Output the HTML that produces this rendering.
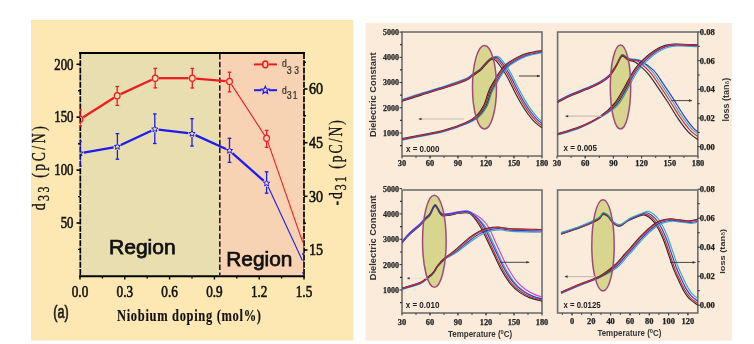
<!DOCTYPE html>
<html><head><meta charset="utf-8"><style>
html,body{margin:0;padding:0;background:#fff;width:754px;height:344px;overflow:hidden}
svg{display:block}
</style></head><body>
<svg width="754" height="344" viewBox="0 0 754 344">
<defs><clipPath id="plotclip"><rect x="80" y="53" width="224" height="223"/></clipPath></defs>
<rect width="754" height="344" fill="#fff"/>
<rect x="31" y="20" width="322.3" height="320.6" fill="#FDE8B3"/>
<rect x="80" y="53" width="140" height="223" fill="#E9DEB0"/>
<rect x="220" y="53" width="84" height="223" fill="#F8D3B3"/>
<line x1="79" y1="53" x2="305" y2="53" stroke="#000" stroke-width="2.2"/>
<line x1="79" y1="276.2" x2="305" y2="276.2" stroke="#000" stroke-width="2"/>
<line x1="80.3" y1="53" x2="80.3" y2="277" stroke="#000" stroke-width="1.7" stroke-dasharray="6,1.2"/>
<line x1="304" y1="53" x2="304" y2="277" stroke="#000" stroke-width="1.7" stroke-dasharray="6,1.2"/>
<line x1="219.8" y1="54" x2="219.8" y2="275" stroke="#111" stroke-width="1.5" stroke-dasharray="5.5,2.3"/>
<line x1="76.5" y1="64.3" x2="80" y2="64.3" stroke="#000" stroke-width="1.6"/>
<line x1="76.5" y1="117.2" x2="80" y2="117.2" stroke="#000" stroke-width="1.6"/>
<line x1="76.5" y1="170.1" x2="80" y2="170.1" stroke="#000" stroke-width="1.6"/>
<line x1="76.5" y1="223.0" x2="80" y2="223.0" stroke="#000" stroke-width="1.6"/>
<line x1="78" y1="90.8" x2="80" y2="90.8" stroke="#000" stroke-width="1.4"/>
<line x1="78" y1="143.7" x2="80" y2="143.7" stroke="#000" stroke-width="1.4"/>
<line x1="78" y1="196.6" x2="80" y2="196.6" stroke="#000" stroke-width="1.4"/>
<line x1="78" y1="249.4" x2="80" y2="249.4" stroke="#000" stroke-width="1.4"/>
<line x1="304" y1="89.0" x2="307.5" y2="89.0" stroke="#000" stroke-width="1.6"/>
<line x1="304" y1="142.7" x2="307.5" y2="142.7" stroke="#000" stroke-width="1.6"/>
<line x1="304" y1="196.3" x2="307.5" y2="196.3" stroke="#000" stroke-width="1.6"/>
<line x1="304" y1="250.0" x2="307.5" y2="250.0" stroke="#000" stroke-width="1.6"/>
<line x1="304" y1="62.2" x2="306" y2="62.2" stroke="#000" stroke-width="1.4"/>
<line x1="304" y1="115.8" x2="306" y2="115.8" stroke="#000" stroke-width="1.4"/>
<line x1="304" y1="169.5" x2="306" y2="169.5" stroke="#000" stroke-width="1.4"/>
<line x1="304" y1="223.2" x2="306" y2="223.2" stroke="#000" stroke-width="1.4"/>
<line x1="80.0" y1="276" x2="80.0" y2="279.5" stroke="#000" stroke-width="1.4"/>
<line x1="102.4" y1="276" x2="102.4" y2="278.5" stroke="#000" stroke-width="1.4"/>
<line x1="124.8" y1="276" x2="124.8" y2="279.5" stroke="#000" stroke-width="1.4"/>
<line x1="147.2" y1="276" x2="147.2" y2="278.5" stroke="#000" stroke-width="1.4"/>
<line x1="169.6" y1="276" x2="169.6" y2="279.5" stroke="#000" stroke-width="1.4"/>
<line x1="192.0" y1="276" x2="192.0" y2="278.5" stroke="#000" stroke-width="1.4"/>
<line x1="214.4" y1="276" x2="214.4" y2="279.5" stroke="#000" stroke-width="1.4"/>
<line x1="236.8" y1="276" x2="236.8" y2="278.5" stroke="#000" stroke-width="1.4"/>
<line x1="259.2" y1="276" x2="259.2" y2="279.5" stroke="#000" stroke-width="1.4"/>
<line x1="281.6" y1="276" x2="281.6" y2="278.5" stroke="#000" stroke-width="1.4"/>
<line x1="304.0" y1="276" x2="304.0" y2="279.5" stroke="#000" stroke-width="1.4"/>
<text x="73.5" y="69.5" font-family='"Liberation Serif", serif' font-size="16.5" font-weight="normal" fill="#111" text-anchor="end" textLength="19.2" lengthAdjust="spacingAndGlyphs" stroke="#111" stroke-width="0.6">200</text>
<text x="73.5" y="122.4" font-family='"Liberation Serif", serif' font-size="16.5" font-weight="normal" fill="#111" text-anchor="end" textLength="19.2" lengthAdjust="spacingAndGlyphs" stroke="#111" stroke-width="0.6">150</text>
<text x="73.5" y="175.3" font-family='"Liberation Serif", serif' font-size="16.5" font-weight="normal" fill="#111" text-anchor="end" textLength="19.2" lengthAdjust="spacingAndGlyphs" stroke="#111" stroke-width="0.6">100</text>
<text x="73.5" y="228.2" font-family='"Liberation Serif", serif' font-size="16.5" font-weight="normal" fill="#111" text-anchor="end" textLength="12.8" lengthAdjust="spacingAndGlyphs" stroke="#111" stroke-width="0.6">50</text>
<text x="309" y="94.2" font-family='"Liberation Serif", serif' font-size="16.5" font-weight="normal" fill="#111" text-anchor="start" textLength="14" lengthAdjust="spacingAndGlyphs" stroke="#111" stroke-width="0.6">60</text>
<text x="309" y="147.9" font-family='"Liberation Serif", serif' font-size="16.5" font-weight="normal" fill="#111" text-anchor="start" textLength="14" lengthAdjust="spacingAndGlyphs" stroke="#111" stroke-width="0.6">45</text>
<text x="309" y="201.5" font-family='"Liberation Serif", serif' font-size="16.5" font-weight="normal" fill="#111" text-anchor="start" textLength="14" lengthAdjust="spacingAndGlyphs" stroke="#111" stroke-width="0.6">30</text>
<text x="309" y="255.2" font-family='"Liberation Serif", serif' font-size="16.5" font-weight="normal" fill="#111" text-anchor="start" textLength="14" lengthAdjust="spacingAndGlyphs" stroke="#111" stroke-width="0.6">15</text>
<text x="80.0" y="296.8" font-family='"Liberation Serif", serif' font-size="16.5" font-weight="normal" fill="#111" text-anchor="middle" textLength="16.5" lengthAdjust="spacingAndGlyphs" stroke="#111" stroke-width="0.6">0.0</text>
<text x="124.8" y="296.8" font-family='"Liberation Serif", serif' font-size="16.5" font-weight="normal" fill="#111" text-anchor="middle" textLength="16.5" lengthAdjust="spacingAndGlyphs" stroke="#111" stroke-width="0.6">0.3</text>
<text x="169.6" y="296.8" font-family='"Liberation Serif", serif' font-size="16.5" font-weight="normal" fill="#111" text-anchor="middle" textLength="16.5" lengthAdjust="spacingAndGlyphs" stroke="#111" stroke-width="0.6">0.6</text>
<text x="214.4" y="296.8" font-family='"Liberation Serif", serif' font-size="16.5" font-weight="normal" fill="#111" text-anchor="middle" textLength="16.5" lengthAdjust="spacingAndGlyphs" stroke="#111" stroke-width="0.6">0.9</text>
<text x="259.2" y="296.8" font-family='"Liberation Serif", serif' font-size="16.5" font-weight="normal" fill="#111" text-anchor="middle" textLength="16.5" lengthAdjust="spacingAndGlyphs" stroke="#111" stroke-width="0.6">1.2</text>
<text x="304.0" y="296.8" font-family='"Liberation Serif", serif' font-size="16.5" font-weight="normal" fill="#111" text-anchor="middle" textLength="16.5" lengthAdjust="spacingAndGlyphs" stroke="#111" stroke-width="0.6">1.5</text>
<text transform="translate(44.5 210.3) rotate(-90) scale(0.7 1)" font-family='"Liberation Serif", serif' font-size="19.5" font-weight="normal" fill="#111" stroke="#111" stroke-width="0.35" textLength="120" lengthAdjust="spacing">d<tspan font-size="17" dy="4.2">33</tspan><tspan dy="-4.2"> (pC/N)</tspan></text>
<text transform="translate(341.5 205.5) rotate(-90) scale(0.7 1)" font-family='"Liberation Serif", serif' font-size="19.5" font-weight="normal" fill="#111" stroke="#111" stroke-width="0.35" textLength="121.9" lengthAdjust="spacing">-d<tspan font-size="17" dy="4.1">31</tspan><tspan dy="-4.1"> (pC/N)</tspan></text>
<text transform="translate(117 320.6) scale(0.78 1)" font-family='"Liberation Serif", serif' font-size="16" font-weight="bold" fill="#111" stroke="#111" stroke-width="0.15" textLength="184.6" lengthAdjust="spacing">Niobium doping (mol%)</text>
<text x="53.2" y="317.6" font-family='"Liberation Sans", sans-serif' font-size="18" font-weight="normal" fill="#1a1a1a" text-anchor="start" textLength="15.4" lengthAdjust="spacingAndGlyphs" stroke="#1a1a1a" stroke-width="0.7">(a)</text>
<text x="109" y="254.3" font-family='"Liberation Sans", sans-serif' font-size="21" font-weight="normal" fill="#111" text-anchor="start" textLength="66.7" lengthAdjust="spacingAndGlyphs" stroke="#111" stroke-width="0.75">Region</text>
<text x="226.2" y="265.9" font-family='"Liberation Sans", sans-serif' font-size="21" font-weight="normal" fill="#111" text-anchor="start" textLength="66.2" lengthAdjust="spacingAndGlyphs" stroke="#111" stroke-width="0.75">Region</text>
<g clip-path="url(#plotclip)">
<line x1="83.21" y1="117.17" x2="113.99" y2="97.73" stroke="#EC1C24" stroke-width="2.3"/>
<line x1="120.65" y1="94.11" x2="151.75" y2="79.79" stroke="#EC1C24" stroke-width="2.3"/>
<line x1="159.00" y1="78.20" x2="188.50" y2="78.20" stroke="#EC1C24" stroke-width="2.3"/>
<line x1="196.09" y1="78.53" x2="225.71" y2="81.07" stroke="#EC1C24" stroke-width="2.3"/>
<line x1="231.58" y1="84.58" x2="264.52" y2="135.12" stroke="#EC1C24" stroke-width="1.1"/>
<line x1="267.85" y1="141.89" x2="302.75" y2="242.41" stroke="#EC1C24" stroke-width="1.1"/>
<line x1="83.74" y1="152.54" x2="113.66" y2="147.26" stroke="#1C1CF0" stroke-width="2.3"/>
<line x1="120.84" y1="144.99" x2="151.36" y2="130.71" stroke="#1C1CF0" stroke-width="2.3"/>
<line x1="158.57" y1="129.56" x2="188.23" y2="133.14" stroke="#1C1CF0" stroke-width="2.3"/>
<line x1="195.46" y1="135.17" x2="226.04" y2="149.03" stroke="#1C1CF0" stroke-width="2.3"/>
<line x1="232.35" y1="153.11" x2="263.75" y2="180.79" stroke="#1C1CF0" stroke-width="2.3"/>
<line x1="268.20" y1="186.75" x2="302.40" y2="260.55" stroke="#1C1CF0" stroke-width="1.1"/>
<line x1="80" y1="110" x2="80" y2="116.0" stroke="#EC1C24" stroke-width="1.3"/>
<line x1="80" y1="122.4" x2="80" y2="126" stroke="#EC1C24" stroke-width="1.3"/>
<line x1="78.2" y1="110" x2="81.8" y2="110" stroke="#EC1C24" stroke-width="1.3"/>
<line x1="78.2" y1="126" x2="81.8" y2="126" stroke="#EC1C24" stroke-width="1.3"/>
<line x1="117.2" y1="86.5" x2="117.2" y2="92.5" stroke="#EC1C24" stroke-width="1.3"/>
<line x1="117.2" y1="98.9" x2="117.2" y2="105.4" stroke="#EC1C24" stroke-width="1.3"/>
<line x1="115.4" y1="86.5" x2="119.0" y2="86.5" stroke="#EC1C24" stroke-width="1.3"/>
<line x1="115.4" y1="105.4" x2="119.0" y2="105.4" stroke="#EC1C24" stroke-width="1.3"/>
<line x1="155.2" y1="68.4" x2="155.2" y2="75.0" stroke="#EC1C24" stroke-width="1.3"/>
<line x1="155.2" y1="81.4" x2="155.2" y2="87.9" stroke="#EC1C24" stroke-width="1.3"/>
<line x1="153.39999999999998" y1="68.4" x2="157.0" y2="68.4" stroke="#EC1C24" stroke-width="1.3"/>
<line x1="153.39999999999998" y1="87.9" x2="157.0" y2="87.9" stroke="#EC1C24" stroke-width="1.3"/>
<line x1="192.3" y1="68.4" x2="192.3" y2="75.0" stroke="#EC1C24" stroke-width="1.3"/>
<line x1="192.3" y1="81.4" x2="192.3" y2="88" stroke="#EC1C24" stroke-width="1.3"/>
<line x1="190.5" y1="68.4" x2="194.10000000000002" y2="68.4" stroke="#EC1C24" stroke-width="1.3"/>
<line x1="190.5" y1="88" x2="194.10000000000002" y2="88" stroke="#EC1C24" stroke-width="1.3"/>
<line x1="229.5" y1="72.2" x2="229.5" y2="78.2" stroke="#EC1C24" stroke-width="1.3"/>
<line x1="229.5" y1="84.60000000000001" x2="229.5" y2="91.8" stroke="#EC1C24" stroke-width="1.3"/>
<line x1="227.7" y1="72.2" x2="231.3" y2="72.2" stroke="#EC1C24" stroke-width="1.3"/>
<line x1="227.7" y1="91.8" x2="231.3" y2="91.8" stroke="#EC1C24" stroke-width="1.3"/>
<line x1="266.6" y1="130.4" x2="266.6" y2="135.10000000000002" stroke="#EC1C24" stroke-width="1.3"/>
<line x1="266.6" y1="141.5" x2="266.6" y2="147.4" stroke="#EC1C24" stroke-width="1.3"/>
<line x1="264.8" y1="130.4" x2="268.40000000000003" y2="130.4" stroke="#EC1C24" stroke-width="1.3"/>
<line x1="264.8" y1="147.4" x2="268.40000000000003" y2="147.4" stroke="#EC1C24" stroke-width="1.3"/>
<line x1="304" y1="238" x2="304" y2="254" stroke="#EC1C24" stroke-width="1.3"/>
<line x1="302.2" y1="238" x2="305.8" y2="238" stroke="#EC1C24" stroke-width="1.3"/>
<line x1="302.2" y1="254" x2="305.8" y2="254" stroke="#EC1C24" stroke-width="1.3"/>
<line x1="80" y1="141.4" x2="80" y2="150.0" stroke="#1C1CF0" stroke-width="1.3"/>
<line x1="80" y1="156.39999999999998" x2="80" y2="165.8" stroke="#1C1CF0" stroke-width="1.3"/>
<line x1="78.2" y1="141.4" x2="81.8" y2="141.4" stroke="#1C1CF0" stroke-width="1.3"/>
<line x1="78.2" y1="165.8" x2="81.8" y2="165.8" stroke="#1C1CF0" stroke-width="1.3"/>
<line x1="117.4" y1="133.6" x2="117.4" y2="143.4" stroke="#1C1CF0" stroke-width="1.3"/>
<line x1="117.4" y1="149.79999999999998" x2="117.4" y2="159.2" stroke="#1C1CF0" stroke-width="1.3"/>
<line x1="115.60000000000001" y1="133.6" x2="119.2" y2="133.6" stroke="#1C1CF0" stroke-width="1.3"/>
<line x1="115.60000000000001" y1="159.2" x2="119.2" y2="159.2" stroke="#1C1CF0" stroke-width="1.3"/>
<line x1="154.8" y1="113.9" x2="154.8" y2="125.89999999999999" stroke="#1C1CF0" stroke-width="1.3"/>
<line x1="154.8" y1="132.29999999999998" x2="154.8" y2="143.5" stroke="#1C1CF0" stroke-width="1.3"/>
<line x1="153.0" y1="113.9" x2="156.60000000000002" y2="113.9" stroke="#1C1CF0" stroke-width="1.3"/>
<line x1="153.0" y1="143.5" x2="156.60000000000002" y2="143.5" stroke="#1C1CF0" stroke-width="1.3"/>
<line x1="192" y1="118.6" x2="192" y2="130.4" stroke="#1C1CF0" stroke-width="1.3"/>
<line x1="192" y1="136.79999999999998" x2="192" y2="146.1" stroke="#1C1CF0" stroke-width="1.3"/>
<line x1="190.2" y1="118.6" x2="193.8" y2="118.6" stroke="#1C1CF0" stroke-width="1.3"/>
<line x1="190.2" y1="146.1" x2="193.8" y2="146.1" stroke="#1C1CF0" stroke-width="1.3"/>
<line x1="229.5" y1="138.3" x2="229.5" y2="147.4" stroke="#1C1CF0" stroke-width="1.3"/>
<line x1="229.5" y1="153.79999999999998" x2="229.5" y2="162.4" stroke="#1C1CF0" stroke-width="1.3"/>
<line x1="227.7" y1="138.3" x2="231.3" y2="138.3" stroke="#1C1CF0" stroke-width="1.3"/>
<line x1="227.7" y1="162.4" x2="231.3" y2="162.4" stroke="#1C1CF0" stroke-width="1.3"/>
<line x1="266.6" y1="171.8" x2="266.6" y2="180.10000000000002" stroke="#1C1CF0" stroke-width="1.3"/>
<line x1="266.6" y1="186.5" x2="266.6" y2="193.2" stroke="#1C1CF0" stroke-width="1.3"/>
<line x1="264.8" y1="171.8" x2="268.40000000000003" y2="171.8" stroke="#1C1CF0" stroke-width="1.3"/>
<line x1="264.8" y1="193.2" x2="268.40000000000003" y2="193.2" stroke="#1C1CF0" stroke-width="1.3"/>
<line x1="304" y1="254" x2="304" y2="273" stroke="#1C1CF0" stroke-width="1.3"/>
<line x1="302.2" y1="254" x2="305.8" y2="254" stroke="#1C1CF0" stroke-width="1.3"/>
<line x1="302.2" y1="273" x2="305.8" y2="273" stroke="#1C1CF0" stroke-width="1.3"/>
<ellipse cx="80" cy="119.2" rx="2.9" ry="3.1" fill="none" stroke="#EC1C24" stroke-width="1.2"/>
<ellipse cx="117.2" cy="95.7" rx="2.9" ry="3.1" fill="none" stroke="#EC1C24" stroke-width="1.2"/>
<ellipse cx="155.2" cy="78.2" rx="2.9" ry="3.1" fill="none" stroke="#EC1C24" stroke-width="1.2"/>
<ellipse cx="192.3" cy="78.2" rx="2.9" ry="3.1" fill="none" stroke="#EC1C24" stroke-width="1.2"/>
<ellipse cx="229.5" cy="81.4" rx="2.9" ry="3.1" fill="none" stroke="#EC1C24" stroke-width="1.2"/>
<ellipse cx="266.6" cy="138.3" rx="2.9" ry="3.1" fill="none" stroke="#EC1C24" stroke-width="1.2"/>
<polygon points="80.00,149.90 80.87,152.00 83.14,152.18 81.41,153.66 81.94,155.87 80.00,154.69 78.06,155.87 78.59,153.66 76.86,152.18 79.13,152.00" fill="none" stroke="#1C1CF0" stroke-width="1.0"/>
<polygon points="117.40,143.30 118.27,145.40 120.54,145.58 118.81,147.06 119.34,149.27 117.40,148.09 115.46,149.27 115.99,147.06 114.26,145.58 116.53,145.40" fill="none" stroke="#1C1CF0" stroke-width="1.0"/>
<polygon points="154.80,125.80 155.67,127.90 157.94,128.08 156.21,129.56 156.74,131.77 154.80,130.59 152.86,131.77 153.39,129.56 151.66,128.08 153.93,127.90" fill="none" stroke="#1C1CF0" stroke-width="1.0"/>
<polygon points="192.00,130.30 192.87,132.40 195.14,132.58 193.41,134.06 193.94,136.27 192.00,135.09 190.06,136.27 190.59,134.06 188.86,132.58 191.13,132.40" fill="none" stroke="#1C1CF0" stroke-width="1.0"/>
<polygon points="229.50,147.30 230.37,149.40 232.64,149.58 230.91,151.06 231.44,153.27 229.50,152.09 227.56,153.27 228.09,151.06 226.36,149.58 228.63,149.40" fill="none" stroke="#1C1CF0" stroke-width="1.0"/>
<polygon points="266.60,180.00 267.47,182.10 269.74,182.28 268.01,183.76 268.54,185.97 266.60,184.79 264.66,185.97 265.19,183.76 263.46,182.28 265.73,182.10" fill="none" stroke="#1C1CF0" stroke-width="1.0"/>
</g>
<line x1="254" y1="64.4" x2="262" y2="64.4" stroke="#EC1C24" stroke-width="2"/>
<line x1="268.6" y1="64.4" x2="277" y2="64.4" stroke="#EC1C24" stroke-width="2"/>
<ellipse cx="265.3" cy="64.4" rx="2.6" ry="3.3" fill="none" stroke="#EC1C24" stroke-width="1.5"/>
<line x1="254" y1="90.2" x2="261.5" y2="90.2" stroke="#1C1CF0" stroke-width="2"/>
<line x1="269" y1="90.2" x2="277" y2="90.2" stroke="#1C1CF0" stroke-width="2"/>
<polygon points="265.30,86.30 266.33,88.78 269.01,88.99 266.97,90.74 267.59,93.36 265.30,91.95 263.01,93.36 263.63,90.74 261.59,88.99 264.27,88.78" fill="none" stroke="#1C1CF0" stroke-width="1.2"/>
<text transform="translate(282 67.4) scale(0.85 1)" font-family='"Liberation Sans", sans-serif' font-size="10" fill="#333" stroke="#333" stroke-width="0.25">d<tspan dy="6.2" font-size="10.5" letter-spacing="3">3</tspan><tspan>3</tspan></text>
<text transform="translate(282 93.5) scale(0.85 1)" font-family='"Liberation Sans", sans-serif' font-size="10" fill="#333" stroke="#333" stroke-width="0.25">d<tspan dy="5.1" font-size="10.5" letter-spacing="1.2">3</tspan><tspan>1</tspan></text>
<rect x="365.5" y="23" width="366.5" height="317.6" fill="#FAEBDB"/>
<rect x="402" y="32" width="140" height="124" fill="none" stroke="#6e6e6e" stroke-width="1.6"/>
<rect x="557.6" y="32" width="140.19999999999993" height="124" fill="none" stroke="#6e6e6e" stroke-width="1.6"/>
<rect x="402" y="190" width="140" height="123" fill="none" stroke="#6e6e6e" stroke-width="1.6"/>
<rect x="557.6" y="190" width="140.19999999999993" height="123" fill="none" stroke="#6e6e6e" stroke-width="1.6"/>
<line x1="399.5" y1="32.1" x2="402" y2="32.1" stroke="#333" stroke-width="1"/>
<text x="399" y="35.0" font-family='"Liberation Serif", serif' font-size="8.5" font-weight="bold" fill="#222" text-anchor="end" textLength="16" lengthAdjust="spacingAndGlyphs" stroke="#222" stroke-width="0.25">5000</text>
<line x1="399.5" y1="57.3" x2="402" y2="57.3" stroke="#333" stroke-width="1"/>
<text x="399" y="60.2" font-family='"Liberation Serif", serif' font-size="8.5" font-weight="bold" fill="#222" text-anchor="end" textLength="16" lengthAdjust="spacingAndGlyphs" stroke="#222" stroke-width="0.25">4000</text>
<line x1="399.5" y1="82.5" x2="402" y2="82.5" stroke="#333" stroke-width="1"/>
<text x="399" y="85.4" font-family='"Liberation Serif", serif' font-size="8.5" font-weight="bold" fill="#222" text-anchor="end" textLength="16" lengthAdjust="spacingAndGlyphs" stroke="#222" stroke-width="0.25">3000</text>
<line x1="399.5" y1="107.8" x2="402" y2="107.8" stroke="#333" stroke-width="1"/>
<text x="399" y="110.7" font-family='"Liberation Serif", serif' font-size="8.5" font-weight="bold" fill="#222" text-anchor="end" textLength="16" lengthAdjust="spacingAndGlyphs" stroke="#222" stroke-width="0.25">2000</text>
<line x1="399.5" y1="133.0" x2="402" y2="133.0" stroke="#333" stroke-width="1"/>
<text x="399" y="135.9" font-family='"Liberation Serif", serif' font-size="8.5" font-weight="bold" fill="#222" text-anchor="end" textLength="16" lengthAdjust="spacingAndGlyphs" stroke="#222" stroke-width="0.25">1000</text>
<line x1="399.5" y1="188.6" x2="402" y2="188.6" stroke="#333" stroke-width="1"/>
<text x="399" y="191.5" font-family='"Liberation Serif", serif' font-size="8.5" font-weight="bold" fill="#222" text-anchor="end" textLength="16" lengthAdjust="spacingAndGlyphs" stroke="#222" stroke-width="0.25">5000</text>
<line x1="399.5" y1="213.9" x2="402" y2="213.9" stroke="#333" stroke-width="1"/>
<text x="399" y="216.8" font-family='"Liberation Serif", serif' font-size="8.5" font-weight="bold" fill="#222" text-anchor="end" textLength="16" lengthAdjust="spacingAndGlyphs" stroke="#222" stroke-width="0.25">4000</text>
<line x1="399.5" y1="239.3" x2="402" y2="239.3" stroke="#333" stroke-width="1"/>
<text x="399" y="242.2" font-family='"Liberation Serif", serif' font-size="8.5" font-weight="bold" fill="#222" text-anchor="end" textLength="16" lengthAdjust="spacingAndGlyphs" stroke="#222" stroke-width="0.25">3000</text>
<line x1="399.5" y1="264.6" x2="402" y2="264.6" stroke="#333" stroke-width="1"/>
<text x="399" y="267.5" font-family='"Liberation Serif", serif' font-size="8.5" font-weight="bold" fill="#222" text-anchor="end" textLength="16" lengthAdjust="spacingAndGlyphs" stroke="#222" stroke-width="0.25">2000</text>
<line x1="399.5" y1="290.0" x2="402" y2="290.0" stroke="#333" stroke-width="1"/>
<text x="399" y="292.9" font-family='"Liberation Serif", serif' font-size="8.5" font-weight="bold" fill="#222" text-anchor="end" textLength="16" lengthAdjust="spacingAndGlyphs" stroke="#222" stroke-width="0.25">1000</text>
<line x1="697.8" y1="32.0" x2="700.3" y2="32.0" stroke="#333" stroke-width="1"/>
<text x="699.8" y="34.9" font-family='"Liberation Serif", serif' font-size="8.5" font-weight="bold" fill="#222" text-anchor="start" textLength="15" lengthAdjust="spacingAndGlyphs" stroke="#222" stroke-width="0.25">0.08</text>
<line x1="697.8" y1="60.7" x2="700.3" y2="60.7" stroke="#333" stroke-width="1"/>
<text x="699.8" y="63.6" font-family='"Liberation Serif", serif' font-size="8.5" font-weight="bold" fill="#222" text-anchor="start" textLength="15" lengthAdjust="spacingAndGlyphs" stroke="#222" stroke-width="0.25">0.06</text>
<line x1="697.8" y1="89.3" x2="700.3" y2="89.3" stroke="#333" stroke-width="1"/>
<text x="699.8" y="92.2" font-family='"Liberation Serif", serif' font-size="8.5" font-weight="bold" fill="#222" text-anchor="start" textLength="15" lengthAdjust="spacingAndGlyphs" stroke="#222" stroke-width="0.25">0.04</text>
<line x1="697.8" y1="118.0" x2="700.3" y2="118.0" stroke="#333" stroke-width="1"/>
<text x="699.8" y="120.9" font-family='"Liberation Serif", serif' font-size="8.5" font-weight="bold" fill="#222" text-anchor="start" textLength="15" lengthAdjust="spacingAndGlyphs" stroke="#222" stroke-width="0.25">0.02</text>
<line x1="697.8" y1="146.7" x2="700.3" y2="146.7" stroke="#333" stroke-width="1"/>
<text x="699.8" y="149.6" font-family='"Liberation Serif", serif' font-size="8.5" font-weight="bold" fill="#222" text-anchor="start" textLength="15" lengthAdjust="spacingAndGlyphs" stroke="#222" stroke-width="0.25">0.00</text>
<line x1="697.8" y1="189.2" x2="700.3" y2="189.2" stroke="#333" stroke-width="1"/>
<text x="699.8" y="192.1" font-family='"Liberation Serif", serif' font-size="8.5" font-weight="bold" fill="#222" text-anchor="start" textLength="15" lengthAdjust="spacingAndGlyphs" stroke="#222" stroke-width="0.25">0.08</text>
<line x1="697.8" y1="218.2" x2="700.3" y2="218.2" stroke="#333" stroke-width="1"/>
<text x="699.8" y="221.1" font-family='"Liberation Serif", serif' font-size="8.5" font-weight="bold" fill="#222" text-anchor="start" textLength="15" lengthAdjust="spacingAndGlyphs" stroke="#222" stroke-width="0.25">0.06</text>
<line x1="697.8" y1="247.2" x2="700.3" y2="247.2" stroke="#333" stroke-width="1"/>
<text x="699.8" y="250.1" font-family='"Liberation Serif", serif' font-size="8.5" font-weight="bold" fill="#222" text-anchor="start" textLength="15" lengthAdjust="spacingAndGlyphs" stroke="#222" stroke-width="0.25">0.04</text>
<line x1="697.8" y1="276.2" x2="700.3" y2="276.2" stroke="#333" stroke-width="1"/>
<text x="699.8" y="279.1" font-family='"Liberation Serif", serif' font-size="8.5" font-weight="bold" fill="#222" text-anchor="start" textLength="15" lengthAdjust="spacingAndGlyphs" stroke="#222" stroke-width="0.25">0.02</text>
<line x1="697.8" y1="305.2" x2="700.3" y2="305.2" stroke="#333" stroke-width="1"/>
<text x="699.8" y="308.1" font-family='"Liberation Serif", serif' font-size="8.5" font-weight="bold" fill="#222" text-anchor="start" textLength="15" lengthAdjust="spacingAndGlyphs" stroke="#222" stroke-width="0.25">0.00</text>
<line x1="402.0" y1="156" x2="402.0" y2="158.5" stroke="#333" stroke-width="1"/>
<text x="402.0" y="166.4" font-family='"Liberation Serif", serif' font-size="8.5" font-weight="bold" fill="#222" text-anchor="middle" textLength="8.4" lengthAdjust="spacingAndGlyphs" stroke="#222" stroke-width="0.25">30</text>
<line x1="430.0" y1="156" x2="430.0" y2="158.5" stroke="#333" stroke-width="1"/>
<text x="430.0" y="166.4" font-family='"Liberation Serif", serif' font-size="8.5" font-weight="bold" fill="#222" text-anchor="middle" textLength="8.4" lengthAdjust="spacingAndGlyphs" stroke="#222" stroke-width="0.25">60</text>
<line x1="458.0" y1="156" x2="458.0" y2="158.5" stroke="#333" stroke-width="1"/>
<text x="458.0" y="166.4" font-family='"Liberation Serif", serif' font-size="8.5" font-weight="bold" fill="#222" text-anchor="middle" textLength="8.4" lengthAdjust="spacingAndGlyphs" stroke="#222" stroke-width="0.25">90</text>
<line x1="486.0" y1="156" x2="486.0" y2="158.5" stroke="#333" stroke-width="1"/>
<text x="486.0" y="166.4" font-family='"Liberation Serif", serif' font-size="8.5" font-weight="bold" fill="#222" text-anchor="middle" textLength="12.600000000000001" lengthAdjust="spacingAndGlyphs" stroke="#222" stroke-width="0.25">120</text>
<line x1="514.0" y1="156" x2="514.0" y2="158.5" stroke="#333" stroke-width="1"/>
<text x="514.0" y="166.4" font-family='"Liberation Serif", serif' font-size="8.5" font-weight="bold" fill="#222" text-anchor="middle" textLength="12.600000000000001" lengthAdjust="spacingAndGlyphs" stroke="#222" stroke-width="0.25">150</text>
<line x1="542.0" y1="156" x2="542.0" y2="158.5" stroke="#333" stroke-width="1"/>
<text x="542.0" y="166.4" font-family='"Liberation Serif", serif' font-size="8.5" font-weight="bold" fill="#222" text-anchor="middle" textLength="12.600000000000001" lengthAdjust="spacingAndGlyphs" stroke="#222" stroke-width="0.25">180</text>
<line x1="557.0" y1="156" x2="557.0" y2="158.5" stroke="#333" stroke-width="1"/>
<text x="557.0" y="166.4" font-family='"Liberation Serif", serif' font-size="8.5" font-weight="bold" fill="#222" text-anchor="middle" textLength="8.4" lengthAdjust="spacingAndGlyphs" stroke="#222" stroke-width="0.25">30</text>
<line x1="585.2" y1="156" x2="585.2" y2="158.5" stroke="#333" stroke-width="1"/>
<text x="585.2" y="166.4" font-family='"Liberation Serif", serif' font-size="8.5" font-weight="bold" fill="#222" text-anchor="middle" textLength="8.4" lengthAdjust="spacingAndGlyphs" stroke="#222" stroke-width="0.25">60</text>
<line x1="613.4" y1="156" x2="613.4" y2="158.5" stroke="#333" stroke-width="1"/>
<text x="613.4" y="166.4" font-family='"Liberation Serif", serif' font-size="8.5" font-weight="bold" fill="#222" text-anchor="middle" textLength="8.4" lengthAdjust="spacingAndGlyphs" stroke="#222" stroke-width="0.25">90</text>
<line x1="641.6" y1="156" x2="641.6" y2="158.5" stroke="#333" stroke-width="1"/>
<text x="641.6" y="166.4" font-family='"Liberation Serif", serif' font-size="8.5" font-weight="bold" fill="#222" text-anchor="middle" textLength="12.600000000000001" lengthAdjust="spacingAndGlyphs" stroke="#222" stroke-width="0.25">120</text>
<line x1="669.8" y1="156" x2="669.8" y2="158.5" stroke="#333" stroke-width="1"/>
<text x="669.8" y="166.4" font-family='"Liberation Serif", serif' font-size="8.5" font-weight="bold" fill="#222" text-anchor="middle" textLength="12.600000000000001" lengthAdjust="spacingAndGlyphs" stroke="#222" stroke-width="0.25">150</text>
<line x1="698.0" y1="156" x2="698.0" y2="158.5" stroke="#333" stroke-width="1"/>
<text x="698.0" y="166.4" font-family='"Liberation Serif", serif' font-size="8.5" font-weight="bold" fill="#222" text-anchor="middle" textLength="12.600000000000001" lengthAdjust="spacingAndGlyphs" stroke="#222" stroke-width="0.25">180</text>
<line x1="402.0" y1="313" x2="402.0" y2="315.5" stroke="#333" stroke-width="1"/>
<text x="402.0" y="324.6" font-family='"Liberation Serif", serif' font-size="8.5" font-weight="bold" fill="#222" text-anchor="middle" textLength="8.4" lengthAdjust="spacingAndGlyphs" stroke="#222" stroke-width="0.25">30</text>
<line x1="430.0" y1="313" x2="430.0" y2="315.5" stroke="#333" stroke-width="1"/>
<text x="430.0" y="324.6" font-family='"Liberation Serif", serif' font-size="8.5" font-weight="bold" fill="#222" text-anchor="middle" textLength="8.4" lengthAdjust="spacingAndGlyphs" stroke="#222" stroke-width="0.25">60</text>
<line x1="458.0" y1="313" x2="458.0" y2="315.5" stroke="#333" stroke-width="1"/>
<text x="458.0" y="324.6" font-family='"Liberation Serif", serif' font-size="8.5" font-weight="bold" fill="#222" text-anchor="middle" textLength="8.4" lengthAdjust="spacingAndGlyphs" stroke="#222" stroke-width="0.25">90</text>
<line x1="486.0" y1="313" x2="486.0" y2="315.5" stroke="#333" stroke-width="1"/>
<text x="486.0" y="324.6" font-family='"Liberation Serif", serif' font-size="8.5" font-weight="bold" fill="#222" text-anchor="middle" textLength="12.600000000000001" lengthAdjust="spacingAndGlyphs" stroke="#222" stroke-width="0.25">120</text>
<line x1="514.0" y1="313" x2="514.0" y2="315.5" stroke="#333" stroke-width="1"/>
<text x="514.0" y="324.6" font-family='"Liberation Serif", serif' font-size="8.5" font-weight="bold" fill="#222" text-anchor="middle" textLength="12.600000000000001" lengthAdjust="spacingAndGlyphs" stroke="#222" stroke-width="0.25">150</text>
<line x1="542.0" y1="313" x2="542.0" y2="315.5" stroke="#333" stroke-width="1"/>
<text x="542.0" y="324.6" font-family='"Liberation Serif", serif' font-size="8.5" font-weight="bold" fill="#222" text-anchor="middle" textLength="12.600000000000001" lengthAdjust="spacingAndGlyphs" stroke="#222" stroke-width="0.25">180</text>
<line x1="572.0" y1="313" x2="572.0" y2="315.5" stroke="#333" stroke-width="1"/>
<text x="572.0" y="324.3" font-family='"Liberation Serif", serif' font-size="8.5" font-weight="bold" fill="#222" text-anchor="middle" textLength="4.2" lengthAdjust="spacingAndGlyphs" stroke="#222" stroke-width="0.25">0</text>
<line x1="591.3" y1="313" x2="591.3" y2="315.5" stroke="#333" stroke-width="1"/>
<text x="591.3" y="324.3" font-family='"Liberation Serif", serif' font-size="8.5" font-weight="bold" fill="#222" text-anchor="middle" textLength="8.4" lengthAdjust="spacingAndGlyphs" stroke="#222" stroke-width="0.25">20</text>
<line x1="610.6" y1="313" x2="610.6" y2="315.5" stroke="#333" stroke-width="1"/>
<text x="610.6" y="324.3" font-family='"Liberation Serif", serif' font-size="8.5" font-weight="bold" fill="#222" text-anchor="middle" textLength="8.4" lengthAdjust="spacingAndGlyphs" stroke="#222" stroke-width="0.25">40</text>
<line x1="630.0" y1="313" x2="630.0" y2="315.5" stroke="#333" stroke-width="1"/>
<text x="630.0" y="324.3" font-family='"Liberation Serif", serif' font-size="8.5" font-weight="bold" fill="#222" text-anchor="middle" textLength="8.4" lengthAdjust="spacingAndGlyphs" stroke="#222" stroke-width="0.25">60</text>
<line x1="649.3" y1="313" x2="649.3" y2="315.5" stroke="#333" stroke-width="1"/>
<text x="649.3" y="324.3" font-family='"Liberation Serif", serif' font-size="8.5" font-weight="bold" fill="#222" text-anchor="middle" textLength="8.4" lengthAdjust="spacingAndGlyphs" stroke="#222" stroke-width="0.25">80</text>
<line x1="668.6" y1="313" x2="668.6" y2="315.5" stroke="#333" stroke-width="1"/>
<text x="668.6" y="324.3" font-family='"Liberation Serif", serif' font-size="8.5" font-weight="bold" fill="#222" text-anchor="middle" textLength="12.600000000000001" lengthAdjust="spacingAndGlyphs" stroke="#222" stroke-width="0.25">100</text>
<line x1="687.9" y1="313" x2="687.9" y2="315.5" stroke="#333" stroke-width="1"/>
<text x="687.9" y="324.3" font-family='"Liberation Serif", serif' font-size="8.5" font-weight="bold" fill="#222" text-anchor="middle" textLength="12.600000000000001" lengthAdjust="spacingAndGlyphs" stroke="#222" stroke-width="0.25">120</text>
<line x1="416.0" y1="156" x2="416.0" y2="158" stroke="#444" stroke-width="1"/>
<line x1="430.0" y1="156" x2="430.0" y2="158" stroke="#444" stroke-width="1"/>
<line x1="444.0" y1="156" x2="444.0" y2="158" stroke="#444" stroke-width="1"/>
<line x1="458.0" y1="156" x2="458.0" y2="158" stroke="#444" stroke-width="1"/>
<line x1="472.0" y1="156" x2="472.0" y2="158" stroke="#444" stroke-width="1"/>
<line x1="486.0" y1="156" x2="486.0" y2="158" stroke="#444" stroke-width="1"/>
<line x1="500.0" y1="156" x2="500.0" y2="158" stroke="#444" stroke-width="1"/>
<line x1="514.0" y1="156" x2="514.0" y2="158" stroke="#444" stroke-width="1"/>
<line x1="528.0" y1="156" x2="528.0" y2="158" stroke="#444" stroke-width="1"/>
<line x1="571.1" y1="156" x2="571.1" y2="158" stroke="#444" stroke-width="1"/>
<line x1="585.2" y1="156" x2="585.2" y2="158" stroke="#444" stroke-width="1"/>
<line x1="599.3" y1="156" x2="599.3" y2="158" stroke="#444" stroke-width="1"/>
<line x1="613.4" y1="156" x2="613.4" y2="158" stroke="#444" stroke-width="1"/>
<line x1="627.5" y1="156" x2="627.5" y2="158" stroke="#444" stroke-width="1"/>
<line x1="641.6" y1="156" x2="641.6" y2="158" stroke="#444" stroke-width="1"/>
<line x1="655.7" y1="156" x2="655.7" y2="158" stroke="#444" stroke-width="1"/>
<line x1="669.8" y1="156" x2="669.8" y2="158" stroke="#444" stroke-width="1"/>
<line x1="683.9" y1="156" x2="683.9" y2="158" stroke="#444" stroke-width="1"/>
<line x1="416.0" y1="313" x2="416.0" y2="315" stroke="#444" stroke-width="1"/>
<line x1="430.0" y1="313" x2="430.0" y2="315" stroke="#444" stroke-width="1"/>
<line x1="444.0" y1="313" x2="444.0" y2="315" stroke="#444" stroke-width="1"/>
<line x1="458.0" y1="313" x2="458.0" y2="315" stroke="#444" stroke-width="1"/>
<line x1="472.0" y1="313" x2="472.0" y2="315" stroke="#444" stroke-width="1"/>
<line x1="486.0" y1="313" x2="486.0" y2="315" stroke="#444" stroke-width="1"/>
<line x1="500.0" y1="313" x2="500.0" y2="315" stroke="#444" stroke-width="1"/>
<line x1="514.0" y1="313" x2="514.0" y2="315" stroke="#444" stroke-width="1"/>
<line x1="528.0" y1="313" x2="528.0" y2="315" stroke="#444" stroke-width="1"/>
<line x1="562.3" y1="313" x2="562.3" y2="315" stroke="#444" stroke-width="1"/>
<line x1="572.0" y1="313" x2="572.0" y2="315" stroke="#444" stroke-width="1"/>
<line x1="581.7" y1="313" x2="581.7" y2="315" stroke="#444" stroke-width="1"/>
<line x1="591.3" y1="313" x2="591.3" y2="315" stroke="#444" stroke-width="1"/>
<line x1="601.0" y1="313" x2="601.0" y2="315" stroke="#444" stroke-width="1"/>
<line x1="610.6" y1="313" x2="610.6" y2="315" stroke="#444" stroke-width="1"/>
<line x1="620.3" y1="313" x2="620.3" y2="315" stroke="#444" stroke-width="1"/>
<line x1="630.0" y1="313" x2="630.0" y2="315" stroke="#444" stroke-width="1"/>
<line x1="639.6" y1="313" x2="639.6" y2="315" stroke="#444" stroke-width="1"/>
<line x1="649.3" y1="313" x2="649.3" y2="315" stroke="#444" stroke-width="1"/>
<line x1="658.9" y1="313" x2="658.9" y2="315" stroke="#444" stroke-width="1"/>
<line x1="668.6" y1="313" x2="668.6" y2="315" stroke="#444" stroke-width="1"/>
<line x1="678.3" y1="313" x2="678.3" y2="315" stroke="#444" stroke-width="1"/>
<line x1="687.9" y1="313" x2="687.9" y2="315" stroke="#444" stroke-width="1"/>
<line x1="400" y1="44.7" x2="402" y2="44.7" stroke="#333" stroke-width="1.2"/>
<line x1="400" y1="69.9" x2="402" y2="69.9" stroke="#333" stroke-width="1.2"/>
<line x1="400" y1="95.1" x2="402" y2="95.1" stroke="#333" stroke-width="1.2"/>
<line x1="400" y1="120.4" x2="402" y2="120.4" stroke="#333" stroke-width="1.2"/>
<line x1="400" y1="145.6" x2="402" y2="145.6" stroke="#333" stroke-width="1.2"/>
<line x1="400" y1="201.3" x2="402" y2="201.3" stroke="#333" stroke-width="1.2"/>
<line x1="400" y1="226.6" x2="402" y2="226.6" stroke="#333" stroke-width="1.2"/>
<line x1="400" y1="252.0" x2="402" y2="252.0" stroke="#333" stroke-width="1.2"/>
<line x1="400" y1="277.3" x2="402" y2="277.3" stroke="#333" stroke-width="1.2"/>
<line x1="400" y1="302.6" x2="402" y2="302.6" stroke="#333" stroke-width="1.2"/>
<line x1="697.8" y1="46.3" x2="699.8" y2="46.3" stroke="#333" stroke-width="1"/>
<line x1="697.8" y1="75.0" x2="699.8" y2="75.0" stroke="#333" stroke-width="1"/>
<line x1="697.8" y1="103.7" x2="699.8" y2="103.7" stroke="#333" stroke-width="1"/>
<line x1="697.8" y1="132.4" x2="699.8" y2="132.4" stroke="#333" stroke-width="1"/>
<line x1="697.8" y1="203.7" x2="699.8" y2="203.7" stroke="#333" stroke-width="1"/>
<line x1="697.8" y1="232.7" x2="699.8" y2="232.7" stroke="#333" stroke-width="1"/>
<line x1="697.8" y1="261.7" x2="699.8" y2="261.7" stroke="#333" stroke-width="1"/>
<line x1="697.8" y1="290.7" x2="699.8" y2="290.7" stroke="#333" stroke-width="1"/>
<text transform="translate(376 137.1) rotate(-90)" font-family='"Liberation Sans", sans-serif' font-size="8.5" font-weight="bold" fill="#333" textLength="84.7" lengthAdjust="spacingAndGlyphs">Dielectric Constant</text>
<text transform="translate(375.7 280.3) rotate(-90)" font-family='"Liberation Sans", sans-serif' font-size="8.5" font-weight="bold" fill="#333" textLength="85" lengthAdjust="spacingAndGlyphs">Dielectric Constant</text>
<text transform="translate(729 121.4) rotate(-90)" font-family='"Liberation Sans", sans-serif' font-size="8.2" font-weight="bold" fill="#333" textLength="43.6" lengthAdjust="spacingAndGlyphs">loss (tan<tspan font-size="6" font-weight="normal">δ</tspan>)</text>
<text transform="translate(725.4 273.8) rotate(-90)" font-family='"Liberation Sans", sans-serif' font-size="8" font-weight="bold" fill="#333" textLength="45" lengthAdjust="spacingAndGlyphs">loss (tan<tspan font-size="6" font-weight="normal">δ</tspan>)</text>
<text x="448" y="337" font-family='"Liberation Sans", sans-serif' font-size="8.3" font-weight="bold" fill="#333" text-anchor="start" textLength="64.2" lengthAdjust="spacingAndGlyphs" >Temperature (<tspan font-size="6" dy="-3">0</tspan><tspan dy="3">C)</tspan></text>
<text x="597.4" y="336.2" font-family='"Liberation Sans", sans-serif' font-size="8.3" font-weight="bold" fill="#333" text-anchor="start" textLength="64" lengthAdjust="spacingAndGlyphs" >Temperature (<tspan font-size="6" dy="-3">0</tspan><tspan dy="3">C)</tspan></text>
<text x="406" y="152" font-family='"Liberation Sans", sans-serif' font-size="8.3" font-weight="bold" fill="#222" text-anchor="start" textLength="33.5" lengthAdjust="spacingAndGlyphs" >x = 0.000</text>
<text x="563.5" y="150.5" font-family='"Liberation Sans", sans-serif' font-size="8.3" font-weight="bold" fill="#222" text-anchor="start" textLength="33.5" lengthAdjust="spacingAndGlyphs" >x = 0.005</text>
<text x="405.7" y="308.2" font-family='"Liberation Sans", sans-serif' font-size="8.3" font-weight="bold" fill="#222" text-anchor="start" textLength="33.8" lengthAdjust="spacingAndGlyphs" >x = 0.010</text>
<text x="563.4" y="308.3" font-family='"Liberation Sans", sans-serif' font-size="8.3" font-weight="bold" fill="#222" text-anchor="start" textLength="37.2" lengthAdjust="spacingAndGlyphs" >x = 0.0125</text>
<clipPath id="sc1"><rect x="402" y="32" width="140" height="124"/></clipPath>
<clipPath id="sc2"><rect x="557.6" y="32" width="140.19999999999993" height="124"/></clipPath>
<clipPath id="sc3"><rect x="402" y="190" width="140" height="123"/></clipPath>
<clipPath id="sc4"><rect x="557.6" y="190" width="140.19999999999993" height="123"/></clipPath>
<g clip-path="url(#sc1)">
<path d="M402.00,99.60 C405.30,98.52 414.87,95.28 421.80,93.10 C428.73,90.92 436.33,88.87 443.60,86.50 C450.87,84.13 460.67,80.90 465.40,78.90 C470.13,76.90 469.57,76.13 472.00,74.50 C474.43,72.87 477.83,70.92 480.00,69.10 C482.17,67.28 483.33,65.35 485.00,63.60 C486.67,61.85 488.29,59.77 490.00,58.60 C491.71,57.43 493.72,56.83 495.25,56.60 C496.78,56.37 497.51,55.93 499.19,57.23 C500.86,58.52 503.31,61.65 505.30,64.40 C507.29,67.15 508.97,69.83 511.10,73.70 C513.23,77.57 515.77,83.15 518.10,87.60 C520.43,92.05 522.78,96.52 525.10,100.40 C527.42,104.28 529.68,107.78 532.00,110.90 C534.32,114.02 536.58,116.82 539.00,119.10 C541.42,121.38 545.25,123.68 546.50,124.60" fill="none" stroke="#3FA7B8" stroke-width="1.15"/>
<path d="M402.00,100.20 C405.30,99.12 414.87,95.88 421.80,93.70 C428.73,91.52 436.33,89.47 443.60,87.10 C450.87,84.73 460.67,81.50 465.40,79.50 C470.13,77.50 469.57,76.73 472.00,75.10 C474.43,73.47 477.83,71.52 480.00,69.70 C482.17,67.88 483.33,65.95 485.00,64.20 C486.67,62.45 488.40,60.33 490.00,59.20 C491.60,58.08 493.26,57.61 494.60,57.45 C495.94,57.29 496.48,56.92 498.05,58.26 C499.62,59.60 502.04,62.74 504.00,65.50 C505.96,68.26 507.67,70.93 509.80,74.80 C511.93,78.67 514.47,84.25 516.80,88.70 C519.13,93.15 521.48,97.62 523.80,101.50 C526.12,105.38 528.38,108.88 530.70,112.00 C533.02,115.12 535.28,117.92 537.70,120.20 C540.12,122.48 543.95,124.78 545.20,125.70" fill="none" stroke="#2B3FD0" stroke-width="1.15"/>
<path d="M402.00,101.40 C405.30,100.32 414.87,97.08 421.80,94.90 C428.73,92.72 436.33,90.67 443.60,88.30 C450.87,85.93 460.67,82.70 465.40,80.70 C470.13,78.70 469.57,77.93 472.00,76.30 C474.43,74.67 477.83,72.72 480.00,70.90 C482.17,69.08 483.33,67.15 485.00,65.40 C486.67,63.65 488.60,61.42 490.00,60.40 C491.40,59.38 492.41,59.27 493.40,59.30 C494.39,59.33 494.58,59.15 495.95,60.60 C497.32,62.05 499.69,65.22 501.60,68.00 C503.51,70.78 505.27,73.43 507.40,77.30 C509.53,81.17 512.07,86.75 514.40,91.20 C516.73,95.65 519.08,100.12 521.40,104.00 C523.72,107.88 525.98,111.38 528.30,114.50 C530.62,117.62 532.88,120.42 535.30,122.70 C537.72,124.98 541.55,127.28 542.80,128.20" fill="none" stroke="#2A2A2A" stroke-width="1.15"/>
<path d="M402.00,100.80 C405.30,99.72 414.87,96.48 421.80,94.30 C428.73,92.12 436.33,90.07 443.60,87.70 C450.87,85.33 460.67,82.10 465.40,80.10 C470.13,78.10 469.57,77.33 472.00,75.70 C474.43,74.07 477.83,72.12 480.00,70.30 C482.17,68.48 483.33,66.55 485.00,64.80 C486.67,63.05 488.50,60.88 490.00,59.80 C491.50,58.72 492.83,58.38 494.00,58.30 C495.17,58.22 495.53,57.92 497.00,59.30 C498.47,60.68 500.87,63.83 502.80,66.60 C504.73,69.37 506.47,72.03 508.60,75.90 C510.73,79.77 513.27,85.35 515.60,89.80 C517.93,94.25 520.28,98.72 522.60,102.60 C524.92,106.48 527.18,109.98 529.50,113.10 C531.82,116.22 534.08,119.02 536.50,121.30 C538.92,123.58 542.75,125.88 544.00,126.80" fill="none" stroke="#D0283C" stroke-width="1.15"/>
<path d="M402.00,140.10 C405.30,139.45 414.87,137.58 421.80,136.20 C428.73,134.82 436.33,133.80 443.60,131.80 C450.87,129.80 459.62,126.58 465.40,124.20 C471.18,121.83 474.69,120.45 478.26,117.55 C481.83,114.65 484.54,111.01 486.80,106.80 C489.06,102.59 490.13,96.22 491.80,92.30 C493.47,88.38 495.13,86.22 496.80,83.30 C498.47,80.38 500.13,77.30 501.80,74.80 C503.47,72.30 505.13,70.08 506.80,68.30 C508.47,66.52 509.30,65.77 511.80,64.10 C514.30,62.43 518.47,59.85 521.80,58.30 C525.13,56.75 527.80,55.80 531.80,54.80 C535.80,53.80 543.47,52.72 545.80,52.30" fill="none" stroke="#3FA7B8" stroke-width="1.15"/>
<path d="M402.00,139.60 C405.30,138.95 414.87,137.08 421.80,135.70 C428.73,134.32 436.33,133.30 443.60,131.30 C450.87,129.30 459.72,126.11 465.40,123.70 C471.08,121.29 474.27,119.79 477.70,116.84 C481.13,113.89 483.78,110.22 486.00,106.00 C488.22,101.78 489.33,95.42 491.00,91.50 C492.67,87.58 494.33,85.42 496.00,82.50 C497.67,79.58 499.33,76.50 501.00,74.00 C502.67,71.50 504.33,69.28 506.00,67.50 C507.67,65.72 508.50,64.97 511.00,63.30 C513.50,61.63 517.67,59.05 521.00,57.50 C524.33,55.95 527.00,55.00 531.00,54.00 C535.00,53.00 542.67,51.92 545.00,51.50" fill="none" stroke="#2B3FD0" stroke-width="1.15"/>
<path d="M402.00,138.70 C405.30,138.05 414.87,136.18 421.80,134.80 C428.73,133.42 436.33,132.40 443.60,130.40 C450.87,128.40 459.95,125.23 465.40,122.80 C470.85,120.37 473.20,118.78 476.30,115.80 C479.40,112.82 481.88,109.13 484.00,104.90 C486.12,100.67 487.33,94.32 489.00,90.40 C490.67,86.48 492.33,84.32 494.00,81.40 C495.67,78.48 497.33,75.40 499.00,72.90 C500.67,70.40 502.33,68.18 504.00,66.40 C505.67,64.62 506.50,63.87 509.00,62.20 C511.50,60.53 515.67,57.95 519.00,56.40 C522.33,54.85 525.00,53.90 529.00,52.90 C533.00,51.90 540.67,50.82 543.00,50.40" fill="none" stroke="#2A2A2A" stroke-width="1.15"/>
<path d="M402.00,139.10 C405.30,138.45 414.87,136.58 421.80,135.20 C428.73,133.82 436.33,132.80 443.60,130.80 C450.87,128.80 459.83,125.63 465.40,123.20 C470.97,120.77 473.73,119.18 477.00,116.20 C480.27,113.22 482.83,109.53 485.00,105.30 C487.17,101.07 488.33,94.72 490.00,90.80 C491.67,86.88 493.33,84.72 495.00,81.80 C496.67,78.88 498.33,75.80 500.00,73.30 C501.67,70.80 503.33,68.58 505.00,66.80 C506.67,65.02 507.50,64.27 510.00,62.60 C512.50,60.93 516.67,58.35 520.00,56.80 C523.33,55.25 526.00,54.30 530.00,53.30 C534.00,52.30 541.67,51.22 544.00,50.80" fill="none" stroke="#D0283C" stroke-width="1.15"/>
</g>
<ellipse cx="484.5" cy="87.2" rx="12" ry="41.8" fill="#DCE8A5" style="mix-blend-mode:multiply"/>
<ellipse cx="484.5" cy="87.2" rx="12" ry="41.8" fill="none" stroke="#A04A7A" stroke-width="1.5"/>
<line x1="418.5" y1="119" x2="464.3" y2="119" stroke="#C8C0B8" stroke-width="1.2"/>
<polygon points="418.5,119 421.5,117.7 421.5,120.3" fill="#333"/>
<line x1="519" y1="76" x2="540" y2="76" stroke="#333" stroke-width="0.9"/>
<polygon points="540,76 537,74.7 537,77.3" fill="#333"/>
<g clip-path="url(#sc2)">
<path d="M557.00,101.20 C559.50,99.95 567.00,95.95 572.00,93.70 C577.00,91.45 582.33,89.70 587.00,87.70 C591.67,85.70 596.33,83.78 600.00,81.70 C603.67,79.62 606.33,77.95 609.00,75.20 C611.67,72.45 613.83,68.62 616.00,65.20 C618.17,61.78 620.00,55.83 622.00,54.70 C624.00,53.57 625.71,57.64 628.00,58.40 C630.29,59.16 633.50,58.78 635.75,59.25 C638.00,59.72 638.88,59.29 641.50,61.20 C644.12,63.11 648.17,66.78 651.50,70.70 C654.83,74.62 658.17,79.87 661.50,84.70 C664.83,89.53 668.17,94.53 671.50,99.70 C674.83,104.87 678.17,110.87 681.50,115.70 C684.83,120.53 688.17,125.20 691.50,128.70 C694.83,132.20 699.83,135.37 701.50,136.70" fill="none" stroke="#3FA7B8" stroke-width="1.15"/>
<path d="M557.00,101.60 C559.50,100.35 567.00,96.35 572.00,94.10 C577.00,91.85 582.33,90.10 587.00,88.10 C591.67,86.10 596.33,84.18 600.00,82.10 C603.67,80.02 606.33,78.35 609.00,75.60 C611.67,72.85 613.83,69.02 616.00,65.60 C618.17,62.18 620.00,56.23 622.00,55.10 C624.00,53.97 625.83,58.00 628.00,58.80 C630.17,59.60 632.76,59.45 635.00,59.90 C637.24,60.35 638.38,59.78 641.46,61.48 C644.54,63.17 649.83,66.33 653.50,70.10 C657.17,73.87 660.17,79.27 663.50,84.10 C666.83,88.93 670.17,93.93 673.50,99.10 C676.83,104.27 680.17,110.27 683.50,115.10 C686.83,119.93 690.17,124.60 693.50,128.10 C696.83,131.60 701.83,134.77 703.50,136.10" fill="none" stroke="#2B3FD0" stroke-width="1.15"/>
<path d="M557.00,102.80 C559.50,101.55 567.00,97.55 572.00,95.30 C577.00,93.05 582.33,91.30 587.00,89.30 C591.67,87.30 596.33,85.38 600.00,83.30 C603.67,81.22 606.33,79.55 609.00,76.80 C611.67,74.05 613.83,70.22 616.00,66.80 C618.17,63.38 620.00,57.43 622.00,56.30 C624.00,55.17 625.98,59.12 628.00,60.00 C630.02,60.88 632.40,60.88 634.10,61.60 C635.80,62.32 635.85,62.27 638.20,64.30 C640.55,66.33 644.87,69.88 648.20,73.80 C651.53,77.72 654.87,82.97 658.20,87.80 C661.53,92.63 664.87,97.63 668.20,102.80 C671.53,107.97 674.87,113.97 678.20,118.80 C681.53,123.63 684.87,128.30 688.20,131.80 C691.53,135.30 696.53,138.47 698.20,139.80" fill="none" stroke="#2A2A2A" stroke-width="1.15"/>
<path d="M557.00,102.20 C559.50,100.95 567.00,96.95 572.00,94.70 C577.00,92.45 582.33,90.70 587.00,88.70 C591.67,86.70 596.33,84.78 600.00,82.70 C603.67,80.62 606.33,78.95 609.00,76.20 C611.67,73.45 613.83,69.62 616.00,66.20 C618.17,62.78 620.00,56.83 622.00,55.70 C624.00,54.57 625.83,58.60 628.00,59.40 C630.17,60.20 633.00,59.95 635.00,60.50 C637.00,61.05 637.50,60.75 640.00,62.70 C642.50,64.65 646.67,68.28 650.00,72.20 C653.33,76.12 656.67,81.37 660.00,86.20 C663.33,91.03 666.67,96.03 670.00,101.20 C673.33,106.37 676.67,112.37 680.00,117.20 C683.33,122.03 686.67,126.70 690.00,130.20 C693.33,133.70 698.33,136.87 700.00,138.20" fill="none" stroke="#D0283C" stroke-width="1.15"/>
<path d="M557.00,135.30 C560.83,134.08 572.83,130.92 580.00,128.00 C587.17,125.08 593.75,121.58 600.00,117.80 C606.25,114.02 612.92,110.08 617.50,105.30 C622.08,100.52 624.17,94.73 627.50,89.10 C630.83,83.47 634.17,76.30 637.50,71.50 C640.83,66.70 644.17,63.50 647.50,60.30 C650.83,57.10 654.17,54.43 657.50,52.30 C660.83,50.17 664.17,48.57 667.50,47.50 C670.83,46.43 671.67,46.02 677.50,45.90 C683.33,45.78 698.33,46.65 702.50,46.80" fill="none" stroke="#3FA7B8" stroke-width="1.15"/>
<path d="M557.00,134.80 C560.83,133.58 572.83,130.42 580.00,127.50 C587.17,124.58 593.92,121.17 600.00,117.30 C606.08,113.43 612.08,109.17 616.50,104.30 C620.92,99.43 623.17,93.73 626.50,88.10 C629.83,82.47 633.17,75.30 636.50,70.50 C639.83,65.70 643.17,62.50 646.50,59.30 C649.83,56.10 653.17,53.43 656.50,51.30 C659.83,49.17 663.17,47.57 666.50,46.50 C669.83,45.43 670.67,45.02 676.50,44.90 C682.33,44.78 697.33,45.65 701.50,45.80" fill="none" stroke="#2B3FD0" stroke-width="1.15"/>
<path d="M557.00,133.90 C560.83,132.68 572.83,129.52 580.00,126.60 C587.17,123.68 594.25,120.27 600.00,116.40 C605.75,112.53 610.42,108.27 614.50,103.40 C618.58,98.53 621.17,92.83 624.50,87.20 C627.83,81.57 631.17,74.40 634.50,69.60 C637.83,64.80 641.17,61.60 644.50,58.40 C647.83,55.20 651.17,52.53 654.50,50.40 C657.83,48.27 661.17,46.67 664.50,45.60 C667.83,44.53 668.67,44.12 674.50,44.00 C680.33,43.88 695.33,44.75 699.50,44.90" fill="none" stroke="#2A2A2A" stroke-width="1.15"/>
<path d="M557.00,134.30 C560.83,133.08 572.83,129.92 580.00,127.00 C587.17,124.08 594.08,120.67 600.00,116.80 C605.92,112.93 611.25,108.67 615.50,103.80 C619.75,98.93 622.17,93.23 625.50,87.60 C628.83,81.97 632.17,74.80 635.50,70.00 C638.83,65.20 642.17,62.00 645.50,58.80 C648.83,55.60 652.17,52.93 655.50,50.80 C658.83,48.67 662.17,47.07 665.50,46.00 C668.83,44.93 669.67,44.52 675.50,44.40 C681.33,44.28 696.33,45.15 700.50,45.30" fill="none" stroke="#D0283C" stroke-width="1.15"/>
</g>
<ellipse cx="620.5" cy="87" rx="10.2" ry="42" fill="#DCE8A5" style="mix-blend-mode:multiply"/>
<ellipse cx="620.5" cy="87" rx="10.2" ry="42" fill="none" stroke="#A04A7A" stroke-width="1.5"/>
<line x1="565.2" y1="116.2" x2="601.5" y2="116.2" stroke="#C8C0B8" stroke-width="1.2"/>
<polygon points="565.2,116.2 568.2,114.9 568.2,117.5" fill="#333"/>
<line x1="671.2" y1="100.6" x2="692" y2="100.6" stroke="#333" stroke-width="0.9"/>
<polygon points="692,100.6 689,99.3 689,101.89999999999999" fill="#333"/>
<g clip-path="url(#sc3)">
<path d="M402.00,243.00 C403.33,241.53 407.00,237.12 410.00,234.20 C413.00,231.28 417.50,227.88 420.00,225.50 C422.50,223.12 423.33,221.63 425.00,219.90 C426.67,218.17 428.33,217.37 430.00,215.10 C431.67,212.83 433.33,206.57 435.00,206.30 C436.67,206.03 438.67,211.90 440.00,213.50 C441.33,215.10 441.33,215.63 443.00,215.90 C444.67,216.17 447.17,215.53 450.00,215.10 C452.83,214.67 456.67,213.55 460.00,213.30 C463.33,213.05 466.67,211.43 470.00,213.60 C473.33,215.77 476.58,220.70 480.00,226.30 C483.42,231.90 487.08,240.22 490.50,247.20 C493.92,254.18 497.17,262.08 500.50,268.20 C503.83,274.32 507.25,279.83 510.50,283.90 C513.75,287.97 516.75,290.27 520.00,292.60 C523.25,294.93 526.17,296.43 530.00,297.90 C533.83,299.37 540.83,300.82 543.00,301.40" fill="none" stroke="#2A2A2A" stroke-width="1.15"/>
<path d="M402.00,242.60 C403.33,241.13 407.00,236.72 410.00,233.80 C413.00,230.88 417.50,227.48 420.00,225.10 C422.50,222.72 423.33,221.23 425.00,219.50 C426.67,217.77 428.33,216.97 430.00,214.70 C431.67,212.43 433.33,206.17 435.00,205.90 C436.67,205.63 438.67,211.50 440.00,213.10 C441.33,214.70 441.33,215.23 443.00,215.50 C444.67,215.77 447.17,215.13 450.00,214.70 C452.83,214.27 456.67,213.15 460.00,212.90 C463.33,212.65 466.50,211.12 470.00,213.20 C473.50,215.28 477.42,219.88 481.00,225.40 C484.58,230.92 488.08,239.32 491.50,246.30 C494.92,253.28 498.17,261.18 501.50,267.30 C504.83,273.42 508.25,278.93 511.50,283.00 C514.75,287.07 517.75,289.37 521.00,291.70 C524.25,294.03 527.17,295.53 531.00,297.00 C534.83,298.47 541.83,299.92 544.00,300.50" fill="none" stroke="#D0283C" stroke-width="1.15"/>
<path d="M402.00,242.10 C403.33,240.63 407.00,236.22 410.00,233.30 C413.00,230.38 417.50,226.98 420.00,224.60 C422.50,222.22 423.33,220.73 425.00,219.00 C426.67,217.27 428.33,216.47 430.00,214.20 C431.67,211.93 433.33,205.67 435.00,205.40 C436.67,205.13 438.67,211.00 440.00,212.60 C441.33,214.20 441.33,214.73 443.00,215.00 C444.67,215.27 447.17,214.63 450.00,214.20 C452.83,213.77 456.67,212.65 460.00,212.40 C463.33,212.15 466.00,210.62 470.00,212.70 C474.00,214.78 479.92,219.38 484.00,224.90 C488.08,230.42 491.08,238.82 494.50,245.80 C497.92,252.78 501.17,260.68 504.50,266.80 C507.83,272.92 511.25,278.43 514.50,282.50 C517.75,286.57 520.75,288.87 524.00,291.20 C527.25,293.53 530.17,295.03 534.00,296.50 C537.83,297.97 544.83,299.42 547.00,300.00" fill="none" stroke="#3FA7B8" stroke-width="1.15"/>
<path d="M402.00,241.20 C403.33,239.73 407.00,235.32 410.00,232.40 C413.00,229.48 417.50,226.08 420.00,223.70 C422.50,221.32 423.33,219.83 425.00,218.10 C426.67,216.37 428.33,215.57 430.00,213.30 C431.67,211.03 433.33,204.77 435.00,204.50 C436.67,204.23 438.67,210.10 440.00,211.70 C441.33,213.30 441.33,213.83 443.00,214.10 C444.67,214.37 447.17,213.73 450.00,213.30 C452.83,212.87 456.67,211.75 460.00,211.50 C463.33,211.25 465.67,209.80 470.00,211.80 C474.33,213.80 481.58,218.07 486.00,223.50 C490.42,228.93 493.08,237.42 496.50,244.40 C499.92,251.38 503.17,259.28 506.50,265.40 C509.83,271.52 513.25,277.03 516.50,281.10 C519.75,285.17 522.75,287.47 526.00,289.80 C529.25,292.13 532.17,293.63 536.00,295.10 C539.83,296.57 546.83,298.02 549.00,298.60" fill="none" stroke="#D040D0" stroke-width="1.15"/>
<path d="M402.00,241.80 C403.33,240.33 407.00,235.92 410.00,233.00 C413.00,230.08 417.50,226.68 420.00,224.30 C422.50,221.92 423.33,220.43 425.00,218.70 C426.67,216.97 428.33,216.17 430.00,213.90 C431.67,211.63 433.33,205.37 435.00,205.10 C436.67,204.83 438.67,210.70 440.00,212.30 C441.33,213.90 441.33,214.43 443.00,214.70 C444.67,214.97 447.17,214.33 450.00,213.90 C452.83,213.47 456.67,212.35 460.00,212.10 C463.33,211.85 466.25,210.32 470.00,212.40 C473.75,214.48 478.67,219.08 482.50,224.60 C486.33,230.12 489.58,238.52 493.00,245.50 C496.42,252.48 499.67,260.38 503.00,266.50 C506.33,272.62 509.75,278.13 513.00,282.20 C516.25,286.27 519.25,288.57 522.50,290.90 C525.75,293.23 528.67,294.73 532.50,296.20 C536.33,297.67 543.33,299.12 545.50,299.70" fill="none" stroke="#2B3FD0" stroke-width="1.15"/>
<path d="M402.00,289.50 C405.00,288.57 415.83,285.63 420.00,283.90 C424.17,282.17 425.00,280.57 427.00,279.10 C429.00,277.63 430.67,276.42 432.00,275.10 C433.33,273.78 434.00,272.65 435.00,271.20 C436.00,269.75 436.33,268.40 438.00,266.40 C439.67,264.40 442.00,261.48 445.00,259.20 C448.00,256.92 451.50,255.82 456.00,252.75 C460.50,249.68 467.67,243.88 472.00,240.80 C476.33,237.73 478.67,235.98 482.00,234.30 C485.33,232.62 488.67,231.42 492.00,230.70 C495.33,229.98 498.67,229.88 502.00,230.00 C505.33,230.12 504.67,231.00 512.00,231.40 C519.33,231.80 540.33,232.23 546.00,232.40" fill="none" stroke="#3FA7B8" stroke-width="1.15"/>
<path d="M402.00,289.00 C405.00,288.07 415.83,285.13 420.00,283.40 C424.17,281.67 425.00,280.07 427.00,278.60 C429.00,277.13 430.67,275.92 432.00,274.60 C433.33,273.28 434.00,272.15 435.00,270.70 C436.00,269.25 436.33,267.90 438.00,265.90 C439.67,263.90 442.08,261.04 445.00,258.70 C447.92,256.36 451.17,255.05 455.50,251.85 C459.83,248.65 466.75,242.64 471.00,239.50 C475.25,236.36 477.67,234.68 481.00,233.00 C484.33,231.32 487.67,230.12 491.00,229.40 C494.33,228.68 497.67,228.58 501.00,228.70 C504.33,228.82 503.67,229.70 511.00,230.10 C518.33,230.50 539.33,230.93 545.00,231.10" fill="none" stroke="#2B3FD0" stroke-width="1.15"/>
<path d="M402.00,288.10 C405.00,287.17 415.83,284.23 420.00,282.50 C424.17,280.77 425.00,279.17 427.00,277.70 C429.00,276.23 430.67,275.02 432.00,273.70 C433.33,272.38 434.00,271.25 435.00,269.80 C436.00,268.35 436.33,267.00 438.00,265.00 C439.67,263.00 442.25,260.20 445.00,257.80 C447.75,255.40 450.50,253.92 454.50,250.60 C458.50,247.28 464.92,241.10 469.00,237.90 C473.08,234.70 475.67,233.08 479.00,231.40 C482.33,229.72 485.67,228.52 489.00,227.80 C492.33,227.08 495.67,226.98 499.00,227.10 C502.33,227.22 501.67,228.10 509.00,228.50 C516.33,228.90 537.33,229.33 543.00,229.50" fill="none" stroke="#2A2A2A" stroke-width="1.15"/>
<path d="M402.00,288.50 C405.00,287.57 415.83,284.63 420.00,282.90 C424.17,281.17 425.00,279.57 427.00,278.10 C429.00,276.63 430.67,275.42 432.00,274.10 C433.33,272.78 434.00,271.65 435.00,270.20 C436.00,268.75 436.33,267.40 438.00,265.40 C439.67,263.40 442.17,260.60 445.00,258.20 C447.83,255.80 450.83,254.32 455.00,251.00 C459.17,247.68 465.83,241.50 470.00,238.30 C474.17,235.10 476.67,233.48 480.00,231.80 C483.33,230.12 486.67,228.92 490.00,228.20 C493.33,227.48 496.67,227.38 500.00,227.50 C503.33,227.62 502.67,228.50 510.00,228.90 C517.33,229.30 538.33,229.73 544.00,229.90" fill="none" stroke="#D0283C" stroke-width="1.15"/>
</g>
<ellipse cx="434.35" cy="241.2" rx="11.8" ry="46" fill="#DCE8A5" style="mix-blend-mode:multiply"/>
<ellipse cx="434.35" cy="241.2" rx="11.8" ry="46" fill="none" stroke="#A04A7A" stroke-width="1.5"/>
<line x1="411" y1="278.3" x2="427" y2="278.3" stroke="#e6dcd2" stroke-width="0.8"/>
<rect x="407.6" y="277.4" width="2.2" height="1.8" fill="#444"/>
<line x1="499.7" y1="262.3" x2="529.3" y2="262.3" stroke="#333" stroke-width="0.9"/>
<polygon points="529.3,262.3 526.3,261.0 526.3,263.6" fill="#333"/>
<g clip-path="url(#sc4)">
<path d="M561.00,234.20 C564.17,233.13 574.33,229.93 580.00,227.80 C585.67,225.67 591.67,223.00 595.00,221.40 C598.33,219.80 598.67,219.37 600.00,218.20 C601.33,217.03 601.67,214.67 603.00,214.40 C604.33,214.13 606.33,215.17 608.00,216.60 C609.67,218.03 611.00,221.40 613.00,223.00 C615.00,224.60 617.63,226.50 620.00,226.20 C622.37,225.90 624.87,222.52 627.20,221.20 C629.53,219.88 632.03,219.12 634.00,218.30 C635.97,217.48 637.33,216.87 639.00,216.30 C640.67,215.73 642.33,214.73 644.00,214.90 C645.67,215.07 647.33,216.10 649.00,217.30 C650.67,218.50 652.33,219.97 654.00,222.10 C655.67,224.23 657.33,226.90 659.00,230.10 C660.67,233.30 662.33,237.03 664.00,241.30 C665.67,245.57 667.33,250.90 669.00,255.70 C670.67,260.50 672.33,265.83 674.00,270.10 C675.67,274.37 677.33,277.77 679.00,281.30 C680.67,284.83 682.33,288.47 684.00,291.30 C685.67,294.13 686.67,295.97 689.00,298.30 C691.33,300.63 696.50,304.13 698.00,305.30" fill="none" stroke="#2A2A2A" stroke-width="1.15"/>
<path d="M561.00,233.70 C564.17,232.63 574.33,229.43 580.00,227.30 C585.67,225.17 591.67,222.50 595.00,220.90 C598.33,219.30 598.67,218.87 600.00,217.70 C601.33,216.53 601.67,214.17 603.00,213.90 C604.33,213.63 606.33,214.67 608.00,216.10 C609.67,217.53 611.00,220.90 613.00,222.50 C615.00,224.10 617.50,226.07 620.00,225.70 C622.50,225.33 625.50,221.70 628.00,220.30 C630.50,218.90 633.00,218.13 635.00,217.30 C637.00,216.47 638.33,215.87 640.00,215.30 C641.67,214.73 643.33,213.73 645.00,213.90 C646.67,214.07 648.33,215.10 650.00,216.30 C651.67,217.50 653.33,218.97 655.00,221.10 C656.67,223.23 658.33,225.90 660.00,229.10 C661.67,232.30 663.33,236.03 665.00,240.30 C666.67,244.57 668.33,249.90 670.00,254.70 C671.67,259.50 673.33,264.83 675.00,269.10 C676.67,273.37 678.33,276.77 680.00,280.30 C681.67,283.83 683.33,287.47 685.00,290.30 C686.67,293.13 687.67,294.97 690.00,297.30 C692.33,299.63 697.50,303.13 699.00,304.30" fill="none" stroke="#D0283C" stroke-width="1.15"/>
<path d="M561.00,233.10 C564.17,232.03 574.33,228.83 580.00,226.70 C585.67,224.57 591.67,221.90 595.00,220.30 C598.33,218.70 598.67,218.27 600.00,217.10 C601.33,215.93 601.67,213.57 603.00,213.30 C604.33,213.03 606.33,214.07 608.00,215.50 C609.67,216.93 611.00,220.30 613.00,221.90 C615.00,223.50 617.30,225.53 620.00,225.10 C622.70,224.67 626.45,220.78 629.20,219.30 C631.95,217.82 634.45,217.05 636.50,216.20 C638.55,215.35 639.83,214.77 641.50,214.20 C643.17,213.63 644.83,212.63 646.50,212.80 C648.17,212.97 649.83,214.00 651.50,215.20 C653.17,216.40 654.83,217.87 656.50,220.00 C658.17,222.13 659.83,224.80 661.50,228.00 C663.17,231.20 664.83,234.93 666.50,239.20 C668.17,243.47 669.83,248.80 671.50,253.60 C673.17,258.40 674.83,263.73 676.50,268.00 C678.17,272.27 679.83,275.67 681.50,279.20 C683.17,282.73 684.83,286.37 686.50,289.20 C688.17,292.03 689.17,293.87 691.50,296.20 C693.83,298.53 699.00,302.03 700.50,303.20" fill="none" stroke="#2B3FD0" stroke-width="1.15"/>
<path d="M561.00,232.60 C564.17,231.53 574.33,228.33 580.00,226.20 C585.67,224.07 591.67,221.40 595.00,219.80 C598.33,218.20 598.67,217.77 600.00,216.60 C601.33,215.43 601.67,213.07 603.00,212.80 C604.33,212.53 606.33,213.57 608.00,215.00 C609.67,216.43 611.00,219.80 613.00,221.40 C615.00,223.00 617.10,225.17 620.00,224.60 C622.90,224.03 627.40,219.65 630.40,218.00 C633.40,216.35 635.90,215.58 638.00,214.70 C640.10,213.82 641.33,213.27 643.00,212.70 C644.67,212.13 646.33,211.13 648.00,211.30 C649.67,211.47 651.33,212.50 653.00,213.70 C654.67,214.90 656.33,216.37 658.00,218.50 C659.67,220.63 661.33,223.30 663.00,226.50 C664.67,229.70 666.33,233.43 668.00,237.70 C669.67,241.97 671.33,247.30 673.00,252.10 C674.67,256.90 676.33,262.23 678.00,266.50 C679.67,270.77 681.33,274.17 683.00,277.70 C684.67,281.23 686.33,284.87 688.00,287.70 C689.67,290.53 690.67,292.37 693.00,294.70 C695.33,297.03 700.50,300.53 702.00,301.70" fill="none" stroke="#3FA7B8" stroke-width="1.15"/>
<path d="M561.00,293.40 C564.17,292.07 573.50,288.07 580.00,285.40 C586.50,282.73 593.75,280.43 600.00,277.40 C606.25,274.37 612.92,270.75 617.50,267.20 C622.08,263.65 625.00,258.83 627.50,256.10 C630.00,253.37 630.00,253.60 632.50,250.80 C635.00,248.00 639.17,242.80 642.50,239.30 C645.83,235.80 649.17,232.47 652.50,229.80 C655.83,227.13 659.17,224.72 662.50,223.30 C665.83,221.88 669.17,221.47 672.50,221.30 C675.83,221.13 679.17,221.97 682.50,222.30 C685.83,222.63 689.33,223.47 692.50,223.30 C695.67,223.13 700.00,221.63 701.50,221.30" fill="none" stroke="#3FA7B8" stroke-width="1.15"/>
<path d="M561.00,292.90 C564.17,291.57 573.50,287.57 580.00,284.90 C586.50,282.23 593.92,280.02 600.00,276.90 C606.08,273.78 612.08,269.83 616.50,266.20 C620.92,262.57 624.00,257.83 626.50,255.10 C629.00,252.37 629.00,252.60 631.50,249.80 C634.00,247.00 638.17,241.80 641.50,238.30 C644.83,234.80 648.17,231.47 651.50,228.80 C654.83,226.13 658.17,223.72 661.50,222.30 C664.83,220.88 668.17,220.47 671.50,220.30 C674.83,220.13 678.17,220.97 681.50,221.30 C684.83,221.63 688.33,222.47 691.50,222.30 C694.67,222.13 699.00,220.63 700.50,220.30" fill="none" stroke="#2B3FD0" stroke-width="1.15"/>
<path d="M561.00,292.00 C564.17,290.67 573.50,286.67 580.00,284.00 C586.50,281.33 594.17,279.20 600.00,276.00 C605.83,272.80 610.83,268.52 615.00,264.80 C619.17,261.08 622.50,256.43 625.00,253.70 C627.50,250.97 627.50,251.20 630.00,248.40 C632.50,245.60 636.67,240.40 640.00,236.90 C643.33,233.40 646.67,230.07 650.00,227.40 C653.33,224.73 656.67,222.32 660.00,220.90 C663.33,219.48 666.67,219.07 670.00,218.90 C673.33,218.73 676.67,219.57 680.00,219.90 C683.33,220.23 686.83,221.07 690.00,220.90 C693.17,220.73 697.50,219.23 699.00,218.90" fill="none" stroke="#2A2A2A" stroke-width="1.15"/>
<path d="M561.00,292.40 C564.17,291.07 573.50,287.07 580.00,284.40 C586.50,281.73 594.05,279.60 600.00,276.40 C605.95,273.20 611.42,268.92 615.70,265.20 C619.98,261.48 623.20,256.83 625.70,254.10 C628.20,251.37 628.20,251.60 630.70,248.80 C633.20,246.00 637.37,240.80 640.70,237.30 C644.03,233.80 647.37,230.47 650.70,227.80 C654.03,225.13 657.37,222.72 660.70,221.30 C664.03,219.88 667.37,219.47 670.70,219.30 C674.03,219.13 677.37,219.97 680.70,220.30 C684.03,220.63 687.53,221.47 690.70,221.30 C693.87,221.13 698.20,219.63 699.70,219.30" fill="none" stroke="#D0283C" stroke-width="1.15"/>
</g>
<ellipse cx="603" cy="245.4" rx="11.2" ry="45.6" fill="#DCE8A5" style="mix-blend-mode:multiply"/>
<ellipse cx="603" cy="245.4" rx="11.2" ry="45.6" fill="none" stroke="#A04A7A" stroke-width="1.5"/>
<line x1="564.6" y1="276.6" x2="595" y2="276.6" stroke="#C8C0B8" stroke-width="1.2"/>
<polygon points="564.6,276.6 567.6,275.3 567.6,277.90000000000003" fill="#333"/>
<line x1="670" y1="262.4" x2="695.6" y2="262.4" stroke="#333" stroke-width="0.9"/>
<polygon points="695.6,262.4 692.6,261.09999999999997 692.6,263.7" fill="#333"/>
</svg></body></html>
